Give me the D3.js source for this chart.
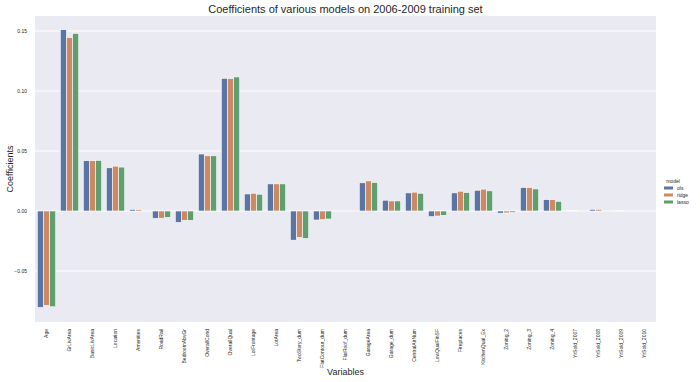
<!DOCTYPE html>
<html><head><meta charset="utf-8">
<script src="https://cdn.jsdelivr.net/npm/d3@7"></script>
<style>body{margin:0;background:#fff}svg{display:block}text{font-family:"Liberation Sans",Arial,sans-serif;fill:#262626}</style>
</head><body><svg id="c" width="700" height="382"></svg>
<script>
const categories = ["Age","GrLivArea","BasicLivArea","Location","Amenities","RoadRail","BedroomAbvGr","OverallCond","OverallQual","LotFrontage","LotArea","TwoStory_dum","FlatContour_dum","FlatRoof_dum","GarageArea","Garage_dum","CentralAirNum","LowQualFinSF","Fireplaces","KitchenQual_Ex","Zoning_2","Zoning_3","Zoning_4","YrSold_2007","YrSold_2008","YrSold_2009","YrSold_2010"];
const models = ["ols","ridge","lasso"];
const olsValues   = [-0.0804,0.1511,0.0419,0.0360,0.0014,-0.0061,-0.0095,0.0475,0.1106,0.0142,0.0226,-0.0243,-0.0075,0.0000,0.0235,0.0090,0.0151,-0.0047,0.0151,0.0173,-0.0018,0.0196,0.0095,0.0003,0.0014,0.0005,0.0000];
const ridgeValues = [-0.0787,0.1446,0.0419,0.0374,0.0012,-0.0060,-0.0078,0.0460,0.1103,0.0148,0.0226,-0.0220,-0.0072,0.0000,0.0251,0.0084,0.0157,-0.0042,0.0165,0.0182,-0.0016,0.0196,0.0095,0.0003,0.0014,0.0005,0.0000];
const lassoValues = [-0.0798,0.1480,0.0422,0.0366,0.0000,-0.0053,-0.0078,0.0460,0.1117,0.0140,0.0226,-0.0229,-0.0067,0.0000,0.0238,0.0084,0.0148,-0.0036,0.0154,0.0168,-0.0012,0.0184,0.0081,0.0000,0.0000,0.0000,0.0000];
const yTicks = [-0.05,0.00,0.05,0.10,0.15];
const colors = ["#5875a4","#cc8963","#5f9e6e"];

const series = [olsValues, ridgeValues, lassoValues];
const svg = d3.select("#c");
const L=35, R=656, T=16, B=322;
const x = d3.scaleBand().domain(categories).range([L,R]).paddingInner(0).paddingOuter(0);
const x1 = d3.scaleBand().domain(models).range([0, x.bandwidth()*0.8]);
const y = d3.scaleLinear().domain([-0.0925,0.1625]).range([B,T]);

svg.append("rect").attr("x",L).attr("y",T).attr("width",R-L).attr("height",B-T).attr("fill","#eaeaf2");
svg.append("g").selectAll("line").data(yTicks).join("line")
  .attr("x1",L).attr("x2",R).attr("y1",d=>y(d)).attr("y2",d=>y(d))
  .attr("stroke","#fff").attr("stroke-width",0.9);

const rows = [];
categories.forEach((c,i)=>models.forEach((m,j)=>rows.push({c,m,j,v:series[j][i]})));
svg.append("g").selectAll("rect").data(rows).join("rect")
  .attr("x",d=>x(d.c)+x.bandwidth()*0.1+x1(d.m))
  .attr("width",x1.bandwidth())
  .attr("y",d=>Math.min(y(d.v),y(0)))
  .attr("height",d=>Math.abs(y(d.v)-y(0)))
  .attr("fill",d=>colors[d.j]).attr("stroke","#fff").attr("stroke-width",0.6);

// y axis
const ya = svg.append("g").attr("transform",`translate(${L},0)`)
  .call(d3.axisLeft(y).tickValues(yTicks).tickFormat(d3.format(".2f")).tickSize(0).tickPadding(8));
ya.select(".domain").remove();
ya.selectAll("text").attr("font-size","5px").attr("fill","#262626").text(d=>d3.format(".2f")(d).replace("-","\u2212"));

// x axis
const xa = svg.append("g").attr("transform",`translate(0,${B})`)
  .call(d3.axisBottom(x).tickSize(0).tickPadding(0));
xa.select(".domain").remove();
xa.selectAll("text").attr("font-size","5px").attr("fill","#262626")
  .attr("transform","rotate(-90)").attr("text-anchor","end").attr("dy","0.35em").attr("x",-7).attr("y",0);

svg.append("text").attr("x",(L+R)/2).attr("y",13).attr("text-anchor","middle").attr("font-size","11px").text("Coefficients of various models on 2006-2009 training set");
svg.append("text").attr("x",(L+R)/2).attr("y",375).attr("text-anchor","middle").attr("font-size","9px").text("Variables");
svg.append("text").attr("transform",`translate(13,${(T+B)/2}) rotate(-90)`).attr("text-anchor","middle").attr("font-size","9px").text("Coefficients");

// legend
const lg = svg.append("g");
lg.append("text").attr("x",673).attr("y",183).attr("text-anchor","middle").attr("font-size","5px").text("model");
models.forEach((m,j)=>{
  const yy = 188 + j*7;
  lg.append("rect").attr("x",664).attr("y",yy-1.5).attr("width",9).attr("height",3).attr("fill",colors[j]);
  lg.append("text").attr("x",677).attr("y",yy).attr("dy","0.35em").attr("font-size","5px").text(m);
});
</script></body></html>
